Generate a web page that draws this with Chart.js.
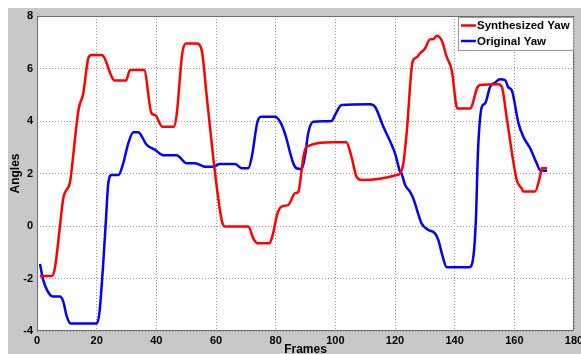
<!DOCTYPE html>
<html>
<head>
<meta charset="utf-8">
<script src="https://cdn.jsdelivr.net/npm/chart.js@4"></script>
<style>
  html, body { margin: 0; padding: 0; background: #fff; }
  #wrap { width: 581px; height: 354px; }
</style>
</head>
<body>
<div id="wrap"><canvas id="myChart" width="581" height="354"></canvas></div>
<script>
// frames / values
const synthFrames = [1, 5, 6, 7.7, 8.8, 11.1, 11.6, 13.9, 15.5, 17.2, 18.3, 21.7, 26.1, 29.8, 31.2, 35.9, 38.4, 39.6, 42, 45.9,
    46.8, 48.7, 50, 53.5, 55.2, 56.9, 59.7, 61.9, 63, 70.8, 72.5, 73.9, 77.9, 79, 80.6, 82, 84.2, 86.5, 87.6, 88.7,
    89.3, 90.4, 99.3, 103.7, 105.4, 107.1, 108.8, 115, 120.5, 121.7, 122.8, 123.9, 125.9, 127.3, 128.4, 130.1, 131.7, 132.9, 134, 135.7,
    137.3, 139, 140.9, 145.2, 145.7, 147.6, 148.5, 154.6, 155.8, 157.4, 160.8, 162.4, 163, 166.9, 168.6, 169.2, 171];
const synthYaw = [-1.9, -1.9, -1.6, 0, 1.05, 1.69, 2.13, 4.42, 5.05, 6.39, 6.51, 6.51, 5.54, 5.54, 5.94, 5.94, 4.29, 4.23, 3.78, 3.78,
    4.23, 6.58, 6.95, 6.95, 6.7, 4.93, 2.0, 0.23, -0.02, -0.02, -0.47, -0.66, -0.66, -0.34, 0.48, 0.74, 0.8, 1.25, 1.3, 2.13,
    2.64, 3.02, 3.19, 3.19, 2.64, 1.88, 1.75, 1.8, 1.94, 2.0, 2.39, 3.53, 6.26, 6.43, 6.58, 6.77, 7.11, 7.12, 7.25, 7.06,
    6.45, 5.94, 4.48, 4.48, 4.55, 5.28, 5.37, 5.4, 5.31, 4.16, 1.75, 1.44, 1.31, 1.31, 1.88, 2.2, 2.2];

const origFrames = [1, 2.1, 4.4, 5.5, 7.7, 8.8, 10, 11.3, 20, 20.9, 22.2, 23.1, 23.9, 25, 27.3, 28.9, 30.6, 32.3, 33.9, 36.8,
    39.6, 42.3, 46.8, 50.2, 53, 56.3, 59.1, 61.3, 66.4, 68.6, 70.8, 72, 73.9, 75.3, 79.8, 81.5, 83.1, 85.9, 87, 88.7,
    89.8, 90.9, 92.6, 98.8, 99.9, 102.1, 111.6, 113.3, 116.1, 120, 121.7, 122.2, 123.4, 125, 126.1, 128.9, 131.2, 133.4, 134.5, 136,
    137.3, 144.9, 146.1, 147.2, 147.6, 148, 149.1, 150.2, 151.9, 153.5, 155.2, 156.9, 158, 159.1, 161.4, 163, 165.3, 167.5, 168.6, 171];
const origYaw = [-1.45, -2.06, -2.63, -2.69, -2.69, -2.88, -3.45, -3.71, -3.71, -3.33, -1.42, 0.23, 1.63, 1.94, 1.94, 2.39, 3.15, 3.57, 3.57, 3.09,
    2.9, 2.7, 2.7, 2.39, 2.39, 2.26, 2.26, 2.36, 2.36, 2.2, 2.2, 2.64, 3.97, 4.16, 4.16, 3.97, 3.53, 2.39, 2.2, 2.17,
    2.64, 3.53, 3.97, 4.0, 4.23, 4.61, 4.64, 4.54, 3.78, 2.77, 2.07, 2.0, 1.56, 1.31, 1.06, 0.1, -0.15, -0.28, -0.53, -1.17,
    -1.57, -1.57, -1.3, 0.48, 2.13, 3.28, 4.54, 4.67, 5.31, 5.46, 5.59, 5.56, 5.28, 5.18, 3.91, 3.4, 2.96, 2.39, 2.13, 2.1];

const xTicks = [0, 20, 40, 60, 80, 100, 120, 140, 160, 180];
const yTicks = [-4, -2, 0, 2, 4, 6, 8];

const toPoints = (xs, ys) => xs.map((x, i) => ({ x: x, y: ys[i] }));

const FONT = "'Liberation Sans', Arial, sans-serif";

const frame = {
    id: 'frame',
    beforeDraw(chart) {
        const { ctx, chartArea: a, width, height } = chart;
        ctx.save();
        ctx.fillStyle = '#ffffff';
        ctx.fillRect(0, 0, width, height);
        ctx.fillStyle = '#c8c8c8';
        ctx.fillRect(8, 8, width - 8, height - 8);
        ctx.fillStyle = '#ffffff';
        ctx.fillRect(a.left, a.top, a.right - a.left, a.bottom - a.top);
        ctx.restore();
    },
    afterDraw(chart) {
        const { ctx, chartArea: a } = chart;
        ctx.save();
        ctx.strokeStyle = '#6e6e6e';
        ctx.lineWidth = 1;
        ctx.strokeRect(a.left + 0.5, a.top + 0.5, a.right - a.left - 1, a.bottom - a.top - 1);

        // legend box
        const bx = 458, by = 17, bw = 115, bh = 33;
        ctx.fillStyle = '#ffffff';
        ctx.fillRect(bx, by, bw, bh);
        ctx.strokeStyle = '#9a9a9a';
        ctx.strokeRect(bx + 0.5, by + 0.5, bw, bh);
        ctx.font = 'bold 11.5px ' + FONT;
        ctx.textBaseline = 'middle';
        chart.data.datasets.forEach((ds, i) => {
            const y = 25.5 + i * 15.5;
            ctx.strokeStyle = ds.borderColor;
            ctx.lineWidth = 2.5;
            ctx.beginPath();
            ctx.moveTo(461, y);
            ctx.lineTo(476, y);
            ctx.stroke();
            ctx.fillStyle = '#000';
            ctx.fillText(ds.label, 477, y + 0.5);
        });
        ctx.restore();
    }
};

const noPad = (scale) => {
    scale.paddingLeft = 0;
    scale.paddingRight = 0;
    scale.paddingTop = 0;
    scale.paddingBottom = 0;
};

const ctx = document.getElementById('myChart').getContext('2d');
const chart = new Chart(ctx, {
    type: 'line',
    data: {
        datasets: [{
            label: 'Synthesized Yaw',
            data: toPoints(synthFrames, synthYaw),
            borderColor: '#ff0000',
            borderWidth: 2.5,
            pointRadius: 0,
            cubicInterpolationMode: 'monotone'
        }, {
            label: 'Original Yaw',
            data: toPoints(origFrames, origYaw),
            borderColor: '#0000ff',
            borderWidth: 2.5,
            pointRadius: 0,
            cubicInterpolationMode: 'monotone'
        }]
    },
    options: {
        responsive: false,
        animation: false,
        events: [],
        layout: { padding: { left: 8, top: 16, right: 7, bottom: 0 } },
        plugins: { legend: { display: false }, tooltip: { enabled: false } },
        scales: {
            x: {
                type: 'linear',
                min: 0,
                max: 180,
                afterBuildTicks: (s) => { s.ticks = xTicks.map(v => ({ value: v })); },
                afterFit: (s) => { s.height = 23; noPad(s); },
                grid: { color: '#9a9a9a', drawTicks: false },
                border: { display: false, dash: [1, 2] },
                ticks: { color: '#000', padding: 3, maxRotation: 0, font: { family: FONT, size: 11, weight: 'bold' } },
                title: { display: true, text: 'Frames', color: '#000', padding: { top: 0, bottom: -3 }, font: { family: FONT, size: 12, weight: 'bold' } }
            },
            y: {
                min: -4,
                max: 8,
                afterBuildTicks: (s) => { s.ticks = yTicks.map(v => ({ value: v })); },
                afterFit: (s) => { s.width = 29; noPad(s); },
                grid: { color: '#9a9a9a', drawTicks: false },
                border: { display: false, dash: [1, 2] },
                ticks: { color: '#000', padding: 4, font: { family: FONT, size: 11, weight: 'bold' } },
                title: { display: true, text: 'Angles', color: '#000', padding: { top: 0, bottom: 0 }, font: { family: FONT, size: 12, weight: 'bold' } }
            }
        }
    },
    plugins: [frame]
});
</script>
</body>
</html>
